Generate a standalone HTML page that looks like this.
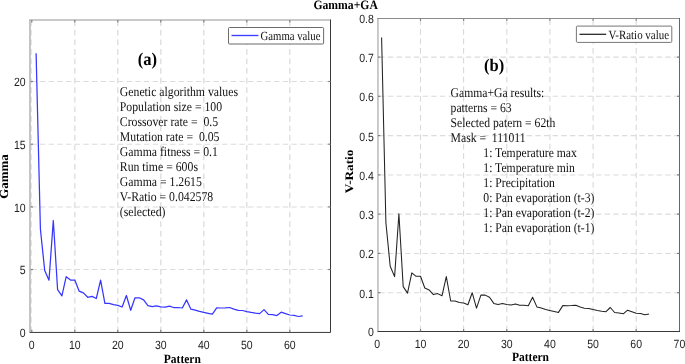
<!DOCTYPE html>
<html><head><meta charset="utf-8"><title>Gamma+GA</title>
<style>html,body{margin:0;padding:0;background:#fff;}body{width:685px;height:364px;overflow:hidden;}svg{display:block;filter:blur(0.35px);text-rendering:geometricPrecision;}.s{font-family:"Liberation Serif",serif;fill:#111;}.b{font-family:"Liberation Serif",serif;font-weight:bold;fill:#000;}.t{font-family:"Liberation Sans",sans-serif;font-size:12px;fill:#222;}</style></head><body>
<svg width="685" height="364" viewBox="0 0 685 364">
<rect width="685" height="364" fill="#fff"/>
<g stroke="#dcdcdc" stroke-width="1.3" stroke-dasharray="5.7 3.87" fill="none">
<line x1="31.1" y1="332.2" x2="31.1" y2="20.0"/>
<line x1="74.8" y1="332.2" x2="74.8" y2="20.0"/>
<line x1="117.8" y1="332.2" x2="117.8" y2="20.0"/>
<line x1="160.8" y1="332.2" x2="160.8" y2="20.0"/>
<line x1="203.8" y1="332.2" x2="203.8" y2="20.0"/>
<line x1="246.8" y1="332.2" x2="246.8" y2="20.0"/>
<line x1="289.8" y1="332.2" x2="289.8" y2="20.0"/>
</g>
<g stroke="#d9d9d9" stroke-width="1.1" stroke-dasharray="5.7 3.87" fill="none">
<line x1="420.5" y1="331.3" x2="420.5" y2="18.4"/>
<line x1="463.6" y1="331.3" x2="463.6" y2="18.4"/>
<line x1="506.8" y1="331.3" x2="506.8" y2="18.4"/>
<line x1="549.9" y1="331.3" x2="549.9" y2="18.4"/>
<line x1="593.1" y1="331.3" x2="593.1" y2="18.4"/>
<line x1="636.2" y1="331.3" x2="636.2" y2="18.4"/>
</g>
<g stroke="#dcdcdc" stroke-width="1.05" stroke-dasharray="5.4 3.27" fill="none">
<line x1="31.3" y1="269.5" x2="330.6" y2="269.5"/>
<line x1="31.3" y1="206.9" x2="330.6" y2="206.9"/>
<line x1="31.3" y1="144.2" x2="330.6" y2="144.2"/>
<line x1="31.3" y1="81.5" x2="330.6" y2="81.5"/>
<line x1="379.2" y1="292.7" x2="679.4" y2="292.7"/>
<line x1="379.2" y1="253.4" x2="679.4" y2="253.4"/>
<line x1="379.2" y1="214.1" x2="679.4" y2="214.1"/>
<line x1="379.2" y1="174.9" x2="679.4" y2="174.9"/>
<line x1="379.2" y1="135.6" x2="679.4" y2="135.6"/>
<line x1="379.2" y1="96.3" x2="679.4" y2="96.3"/>
<line x1="379.2" y1="57.1" x2="679.4" y2="57.1"/>
</g>
<g fill="none">
<path d="M30.0 332.2 V20.0" stroke="#c2c2c2" stroke-width="1.9"/>
<path d="M29.1 20.0 H330.6" stroke="#b9b9b9" stroke-width="1.7"/>
<path d="M29.6 332.45 H330.5 V19.5" stroke="#2e2e2e" stroke-width="0.95"/>
<path d="M377.95 331.3 V18.4" stroke="#b4b4b4" stroke-width="1.4"/>
<path d="M377.2 18.5 H679.4" stroke="#8c8c8c" stroke-width="1.1"/>
<path d="M679.5 331.5 V17.9" stroke="#666" stroke-width="1"/>
<path d="M377.5 331.5 H680.0" stroke="#2e2e2e" stroke-width="0.95"/>
</g>
<g stroke="#808080" stroke-width="1.2">
<line x1="31.8" y1="332.2" x2="31.8" y2="329.8"/>
<line x1="31.8" y1="20.0" x2="31.8" y2="22.4"/>
<line x1="74.8" y1="332.2" x2="74.8" y2="329.8"/>
<line x1="74.8" y1="20.0" x2="74.8" y2="22.4"/>
<line x1="117.8" y1="332.2" x2="117.8" y2="329.8"/>
<line x1="117.8" y1="20.0" x2="117.8" y2="22.4"/>
<line x1="160.8" y1="332.2" x2="160.8" y2="329.8"/>
<line x1="160.8" y1="20.0" x2="160.8" y2="22.4"/>
<line x1="203.8" y1="332.2" x2="203.8" y2="329.8"/>
<line x1="203.8" y1="20.0" x2="203.8" y2="22.4"/>
<line x1="246.8" y1="332.2" x2="246.8" y2="329.8"/>
<line x1="246.8" y1="20.0" x2="246.8" y2="22.4"/>
<line x1="289.8" y1="332.2" x2="289.8" y2="329.8"/>
<line x1="289.8" y1="20.0" x2="289.8" y2="22.4"/>
<line x1="30.6" y1="269.5" x2="33.0" y2="269.5"/>
<line x1="330.6" y1="269.5" x2="328.20000000000005" y2="269.5"/>
<line x1="30.6" y1="206.9" x2="33.0" y2="206.9"/>
<line x1="330.6" y1="206.9" x2="328.20000000000005" y2="206.9"/>
<line x1="30.6" y1="144.2" x2="33.0" y2="144.2"/>
<line x1="330.6" y1="144.2" x2="328.20000000000005" y2="144.2"/>
<line x1="30.6" y1="81.5" x2="33.0" y2="81.5"/>
<line x1="330.6" y1="81.5" x2="328.20000000000005" y2="81.5"/>
<line x1="420.5" y1="331.3" x2="420.5" y2="328.90000000000003"/>
<line x1="420.5" y1="18.4" x2="420.5" y2="20.799999999999997"/>
<line x1="463.6" y1="331.3" x2="463.6" y2="328.90000000000003"/>
<line x1="463.6" y1="18.4" x2="463.6" y2="20.799999999999997"/>
<line x1="506.8" y1="331.3" x2="506.8" y2="328.90000000000003"/>
<line x1="506.8" y1="18.4" x2="506.8" y2="20.799999999999997"/>
<line x1="549.9" y1="331.3" x2="549.9" y2="328.90000000000003"/>
<line x1="549.9" y1="18.4" x2="549.9" y2="20.799999999999997"/>
<line x1="593.1" y1="331.3" x2="593.1" y2="328.90000000000003"/>
<line x1="593.1" y1="18.4" x2="593.1" y2="20.799999999999997"/>
<line x1="636.2" y1="331.3" x2="636.2" y2="328.90000000000003"/>
<line x1="636.2" y1="18.4" x2="636.2" y2="20.799999999999997"/>
<line x1="378.0" y1="292.7" x2="380.4" y2="292.7"/>
<line x1="679.4" y1="292.7" x2="677.0" y2="292.7"/>
<line x1="378.0" y1="253.4" x2="380.4" y2="253.4"/>
<line x1="679.4" y1="253.4" x2="677.0" y2="253.4"/>
<line x1="378.0" y1="214.1" x2="380.4" y2="214.1"/>
<line x1="679.4" y1="214.1" x2="677.0" y2="214.1"/>
<line x1="378.0" y1="174.9" x2="380.4" y2="174.9"/>
<line x1="679.4" y1="174.9" x2="677.0" y2="174.9"/>
<line x1="378.0" y1="135.6" x2="380.4" y2="135.6"/>
<line x1="679.4" y1="135.6" x2="677.0" y2="135.6"/>
<line x1="378.0" y1="96.3" x2="380.4" y2="96.3"/>
<line x1="679.4" y1="96.3" x2="677.0" y2="96.3"/>
<line x1="378.0" y1="57.1" x2="380.4" y2="57.1"/>
<line x1="679.4" y1="57.1" x2="677.0" y2="57.1"/>
</g>
<g class="t">
<text text-anchor="middle" transform="translate(31.8,349.2) scale(0.875,1)">0</text>
<text text-anchor="middle" transform="translate(74.8,349.2) scale(0.875,1)">10</text>
<text text-anchor="middle" transform="translate(117.8,349.2) scale(0.875,1)">20</text>
<text text-anchor="middle" transform="translate(160.8,349.2) scale(0.875,1)">30</text>
<text text-anchor="middle" transform="translate(203.8,349.2) scale(0.875,1)">40</text>
<text text-anchor="middle" transform="translate(246.8,349.2) scale(0.875,1)">50</text>
<text text-anchor="middle" transform="translate(289.8,349.2) scale(0.875,1)">60</text>
<text text-anchor="end" transform="translate(25.6,337.1) scale(0.875,1)">0</text>
<text text-anchor="end" transform="translate(25.6,274.4) scale(0.875,1)">5</text>
<text text-anchor="end" transform="translate(25.6,211.8) scale(0.875,1)">10</text>
<text text-anchor="end" transform="translate(25.6,149.1) scale(0.875,1)">15</text>
<text text-anchor="end" transform="translate(25.6,86.4) scale(0.875,1)">20</text>
<text text-anchor="middle" transform="translate(377.3,347.9) scale(0.875,1)">0</text>
<text text-anchor="middle" transform="translate(420.5,347.9) scale(0.875,1)">10</text>
<text text-anchor="middle" transform="translate(463.6,347.9) scale(0.875,1)">20</text>
<text text-anchor="middle" transform="translate(506.8,347.9) scale(0.875,1)">30</text>
<text text-anchor="middle" transform="translate(549.9,347.9) scale(0.875,1)">40</text>
<text text-anchor="middle" transform="translate(593.1,347.9) scale(0.875,1)">50</text>
<text text-anchor="middle" transform="translate(636.2,347.9) scale(0.875,1)">60</text>
<text text-anchor="middle" transform="translate(679.4,347.9) scale(0.875,1)">70</text>
<text text-anchor="end" transform="translate(373.8,336.3) scale(0.875,1)">0</text>
<text text-anchor="end" transform="translate(373.8,297.7) scale(0.875,1)">0.1</text>
<text text-anchor="end" transform="translate(373.8,258.4) scale(0.875,1)">0.2</text>
<text text-anchor="end" transform="translate(373.8,219.1) scale(0.875,1)">0.3</text>
<text text-anchor="end" transform="translate(373.8,179.9) scale(0.875,1)">0.4</text>
<text text-anchor="end" transform="translate(373.8,140.6) scale(0.875,1)">0.5</text>
<text text-anchor="end" transform="translate(373.8,101.3) scale(0.875,1)">0.6</text>
<text text-anchor="end" transform="translate(373.8,62.1) scale(0.875,1)">0.7</text>
<text text-anchor="end" transform="translate(373.8,22.8) scale(0.875,1)">0.8</text>
</g>
<polyline points="36.1,53.2 40.4,229.0 44.7,270.5 49.0,280.2 53.3,220.5 57.6,289.7 61.9,295.9 66.2,276.7 70.5,280.0 74.8,280.0 79.1,291.1 83.4,292.9 87.7,297.3 92.0,296.4 96.3,298.5 100.6,280.2 104.9,303.4 109.2,303.4 113.5,304.7 117.8,305.4 122.1,307.0 126.4,295.5 130.7,310.3 135.0,297.8 139.3,297.8 143.6,299.9 147.9,305.7 152.2,306.6 156.5,305.9 160.8,306.8 165.1,307.1 169.4,306.2 173.7,307.5 178.0,307.5 182.3,308.0 186.6,299.9 190.9,309.2 195.2,310.1 199.5,311.4 203.8,312.4 208.1,313.3 212.4,314.2 216.7,307.8 221.0,308.0 225.3,307.8 229.6,307.5 233.9,309.2 238.2,310.3 242.5,310.5 246.8,311.6 251.1,312.4 255.4,313.1 259.7,313.6 264.0,309.6 268.3,314.3 272.6,314.7 276.9,315.6 281.2,312.2 285.5,313.6 289.8,315.0 294.1,315.4 298.4,316.5 302.7,315.9" fill="none" stroke="#3636ff" stroke-width="1.25" stroke-linejoin="round"/>
<polyline points="381.6,37.6 385.9,222.7 390.2,266.3 394.6,276.6 398.9,213.7 403.2,286.6 407.5,293.1 411.8,272.9 416.1,276.3 420.5,276.3 424.8,288.0 429.1,289.9 433.4,294.6 437.7,293.6 442.0,295.8 446.3,276.6 450.7,301.0 455.0,301.0 459.3,302.4 463.6,303.1 467.9,304.8 472.2,292.7 476.5,308.2 480.9,295.1 485.2,295.1 489.5,297.3 493.8,303.4 498.1,304.4 502.4,303.6 506.8,304.6 511.1,304.9 515.4,303.9 519.7,305.3 524.0,305.3 528.3,305.8 532.6,297.3 537.0,307.1 541.3,308.0 545.6,309.4 549.9,310.5 554.2,311.4 558.5,312.4 562.8,305.6 567.2,305.8 571.5,305.6 575.8,305.3 580.1,307.1 584.4,308.2 588.7,308.5 593.1,309.6 597.4,310.5 601.7,311.2 606.0,311.7 610.3,307.5 614.6,312.5 618.9,312.9 623.3,313.8 627.6,310.2 631.9,311.7 636.2,313.2 640.5,313.6 644.8,314.8 649.1,314.1" fill="none" stroke="#222" stroke-width="1.05" stroke-linejoin="round"/>
<rect x="228.5" y="27.5" width="95.1" height="16.5" rx="1" fill="#fff" stroke="#5a5a5a" stroke-width="0.9"/>
<line x1="231.5" y1="35.5" x2="258.4" y2="35.5" stroke="#3c3cff" stroke-width="1.35"/>
<text class="s" font-size="12.5" text-anchor="start" transform="translate(260.6,40.3) scale(0.858,1)" xml:space="preserve">Gamma value</text>
<rect x="576.4" y="26.1" width="95.4" height="16.3" rx="1" fill="#fff" stroke="#666" stroke-width="0.9"/>
<line x1="579.5" y1="34.3" x2="606.2" y2="34.3" stroke="#222" stroke-width="1.25"/>
<text class="s" font-size="12.5" text-anchor="start" transform="translate(608.4,38.8) scale(0.874,1)" xml:space="preserve">V-Ratio value</text>
<text class="b" font-size="12.85" text-anchor="middle" transform="translate(345.6,9.3) scale(0.91,1)" xml:space="preserve">Gamma+GA</text>
<text class="b" font-size="12.65" text-anchor="middle" transform="translate(182.3,363.0) scale(0.91,1)" xml:space="preserve">Pattern</text>
<text class="b" font-size="12.65" text-anchor="middle" transform="translate(530.5,361.3) scale(0.91,1)" xml:space="preserve">Pattern</text>
<text class="b" font-size="12.9" text-anchor="middle" transform="translate(8.1,176.5) rotate(-90) scale(1,0.95)">Gamma</text>
<text class="b" font-size="13.2" text-anchor="middle" transform="translate(353.2,171.5) rotate(-90) scale(1,0.87)">V-Ratio</text>
<text class="b" font-size="18.0" text-anchor="middle" transform="translate(147.4,64.9) scale(0.92,1)" xml:space="preserve">(a)</text>
<text class="b" font-size="17.8" text-anchor="middle" transform="translate(494.1,70.9) scale(0.927,1)" xml:space="preserve">(b)</text>
<text class="s" font-size="13.4" text-anchor="start" transform="translate(119.8,95.9) scale(0.878,1)" xml:space="preserve">Genetic algorithm values</text>
<text class="s" font-size="13.4" text-anchor="start" transform="translate(119.8,110.9) scale(0.878,1)" xml:space="preserve">Population size = 100</text>
<text class="s" font-size="13.4" text-anchor="start" transform="translate(119.8,125.8) scale(0.878,1)" xml:space="preserve">Crossover rate =&#160; 0.5</text>
<text class="s" font-size="13.4" text-anchor="start" transform="translate(119.8,140.8) scale(0.878,1)" xml:space="preserve">Mutation rate =&#160; 0.05</text>
<text class="s" font-size="13.4" text-anchor="start" transform="translate(119.8,155.7) scale(0.878,1)" xml:space="preserve">Gamma fitness = 0.1</text>
<text class="s" font-size="13.4" text-anchor="start" transform="translate(119.8,170.7) scale(0.878,1)" xml:space="preserve">Run time = 600s</text>
<text class="s" font-size="13.4" text-anchor="start" transform="translate(119.8,185.6) scale(0.878,1)" xml:space="preserve">Gamma = 1.2615</text>
<text class="s" font-size="13.4" text-anchor="start" transform="translate(119.8,200.6) scale(0.878,1)" xml:space="preserve">V-Ratio = 0.042578</text>
<text class="s" font-size="13.4" text-anchor="start" transform="translate(119.8,215.5) scale(0.878,1)" xml:space="preserve">(selected)</text>
<text class="s" font-size="13.4" text-anchor="start" transform="translate(450.6,96.8) scale(0.871,1)" xml:space="preserve">Gamma+Ga results:</text>
<text class="s" font-size="13.4" text-anchor="start" transform="translate(450.6,112.0) scale(0.871,1)" xml:space="preserve">patterns = 63</text>
<text class="s" font-size="13.4" text-anchor="start" transform="translate(450.6,126.8) scale(0.871,1)" xml:space="preserve">Selected patern = 62th</text>
<text class="s" font-size="13.4" text-anchor="start" transform="translate(450.6,141.5) scale(0.871,1)" xml:space="preserve">Mask =&#160; 111011</text>
<text class="s" font-size="13.4" text-anchor="start" transform="translate(483.3,156.8) scale(0.871,1)" xml:space="preserve">1: Temperature max</text>
<text class="s" font-size="13.4" text-anchor="start" transform="translate(483.3,171.6) scale(0.871,1)" xml:space="preserve">1: Temperature min</text>
<text class="s" font-size="13.4" text-anchor="start" transform="translate(483.3,186.8) scale(0.871,1)" xml:space="preserve">1: Precipitation</text>
<text class="s" font-size="13.4" text-anchor="start" transform="translate(483.3,202.1) scale(0.871,1)" xml:space="preserve">0: Pan evaporation (t-3)</text>
<text class="s" font-size="13.4" text-anchor="start" transform="translate(483.3,216.9) scale(0.871,1)" xml:space="preserve">1: Pan evaporation (t-2)</text>
<text class="s" font-size="13.4" text-anchor="start" transform="translate(483.3,231.8) scale(0.871,1)" xml:space="preserve">1: Pan evaporation (t-1)</text>
</svg></body></html>
